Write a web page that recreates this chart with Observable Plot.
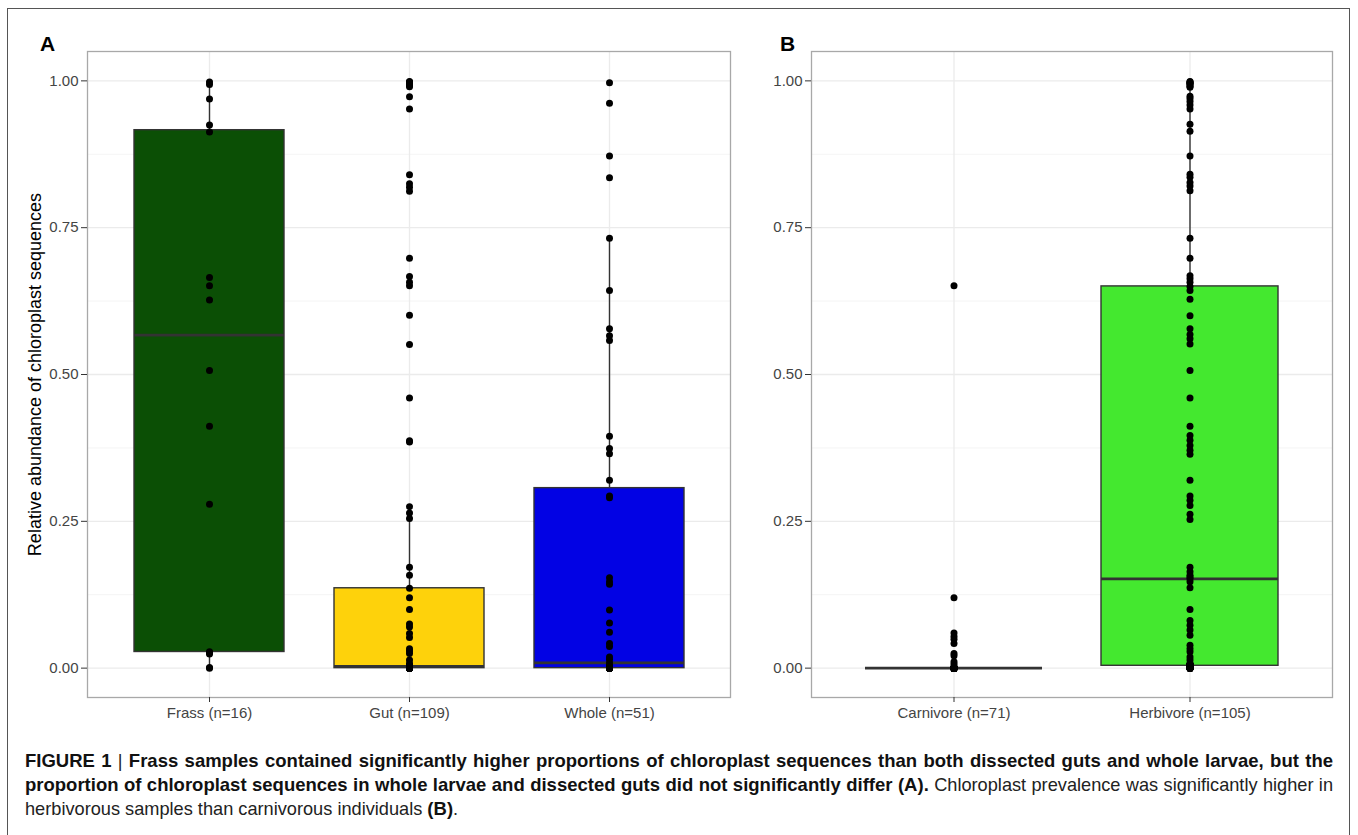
<!DOCTYPE html>
<html>
<head>
<meta charset="utf-8">
<script src="https://cdn.jsdelivr.net/npm/d3@7"></script>
<script src="https://cdn.jsdelivr.net/npm/@observablehq/plot@0.6"></script>
<style>
  html, body { margin: 0; padding: 0; background: #fff; }
  body { width: 1358px; height: 835px; position: relative; overflow: hidden; font-family: "Liberation Sans", Arial, sans-serif; }
  #frame { position: absolute; left: 7px; top: 8px; width: 1343px; height: 840px; border: 1.5px solid #555; box-sizing: border-box; }
  .panel { position: absolute; top: 0; }
  .tag { position: absolute; font-weight: bold; font-size: 21px; color: #000; line-height: 1; }
  #caption { position: absolute; left: 25px; top: 749px; width: 1308px; font-size: 18.2px; line-height: 23px; color: #222; }
  #caption .ln { white-space: nowrap; text-align: justify; text-align-last: justify; }
  #caption .ln.last { text-align-last: left; }
  #caption b { color: #111; font-size: 18.5px; }
</style>
</head>
<body>
<div id="frame"></div>
<div id="panelA" class="panel" style="left:0px"></div>
<div id="panelB" class="panel" style="left:740px"></div>
<div class="tag" style="left:40px; top:33px">A</div>
<div class="tag" style="left:780px; top:33px">B</div>
<div id="caption">
  <div class="ln"><b>FIGURE 1</b> | <b>Frass samples contained significantly higher proportions of chloroplast sequences than both dissected guts and whole larvae, but the</b></div>
  <div class="ln"><b>proportion of chloroplast sequences in whole larvae and dissected guts did not significantly differ (A).</b> Chloroplast prevalence was significantly higher in</div>
  <div class="ln last">herbivorous samples than carnivorous individuals <b>(B)</b>.</div>
</div>
<script>
// ---------------- data ----------------
const categoriesA = ["Frass (n=16)", "Gut (n=109)", "Whole (n=51)"];
const colorsA = ["#0b4f05", "#fed20b", "#0202e4"];
const categoriesB = ["Carnivore (n=71)", "Herbivore (n=105)"];
const colorsB = ["#333333", "#44e82f"];

const frass = [0.998, 0.994, 0.969, 0.925, 0.913, 0.665, 0.651, 0.627, 0.507, 0.412, 0.279, 0.028, 0.026, 0.024, 0.001, 0.000];

const gut = [0.999, 0.998, 0.997, 0.996, 0.994, 0.992, 0.990, 0.973, 0.952,
  0.840, 0.825, 0.819, 0.812, 0.698, 0.667, 0.657, 0.651, 0.601, 0.551, 0.460,
  0.387, 0.385, 0.275, 0.264, 0.255, 0.172, 0.158, 0.136, 0.120, 0.100,
  0.075, 0.070, 0.059, 0.052, 0.033, 0.029, 0.025, 0.014, 0.008, 0.003,
  0.003, 0.003, 0.003, 0.003, 0.003, 0.003, 0.003, 0.003, 0.003, 0.003,
  0.003, 0.003, 0.003, 0.003, 0.003, 0.002, 0.002, 0.002, 0.002, 0.002,
  0.001, 0.001, 0.001, 0.001, 0.001, 0.001, 0.001, 0.001, 0.001, 0.001,
  0, 0, 0, 0, 0, 0, 0, 0, 0, 0, 0, 0, 0, 0, 0, 0, 0, 0, 0, 0,
  0, 0, 0, 0, 0, 0, 0, 0, 0, 0, 0, 0, 0, 0, 0, 0, 0, 0, 0];

const whole = [0.997, 0.962, 0.872, 0.835, 0.732, 0.643, 0.578, 0.566, 0.558,
  0.395, 0.374, 0.365, 0.320, 0.293, 0.290, 0.154, 0.147, 0.143,
  0.099, 0.077, 0.061, 0.042, 0.037, 0.019, 0.015, 0.009, 0.005, 0.002,
  0, 0, 0, 0, 0, 0, 0, 0, 0, 0, 0, 0, 0, 0, 0, 0, 0, 0, 0, 0, 0, 0, 0];

const carnivore = [0.651, 0.120, 0.060, 0.054, 0.049, 0.042, 0.025, 0.021, 0.011, 0.007, 0.003, 0.001,
  0, 0, 0, 0, 0, 0, 0, 0, 0, 0, 0, 0, 0, 0, 0, 0, 0, 0, 0, 0,
  0, 0, 0, 0, 0, 0, 0, 0, 0, 0, 0, 0, 0, 0, 0, 0, 0, 0, 0, 0,
  0, 0, 0, 0, 0, 0, 0, 0, 0, 0, 0, 0, 0, 0, 0, 0, 0, 0, 0];

const herbivore = [0.999, 0.998, 0.997, 0.996, 0.995, 0.993, 0.991, 0.989,
  0.974, 0.970, 0.965, 0.959, 0.952, 0.926, 0.914, 0.872,
  0.841, 0.836, 0.827, 0.821, 0.813, 0.732, 0.698,
  0.668, 0.663, 0.657, 0.650, 0.643, 0.628, 0.600,
  0.578, 0.568, 0.561, 0.552, 0.507, 0.460, 0.412,
  0.396, 0.388, 0.379, 0.371, 0.364, 0.320,
  0.293, 0.286, 0.277, 0.262, 0.253,
  0.172, 0.164, 0.158, 0.155, 0.152, 0.147, 0.137, 0.100,
  0.081, 0.073, 0.065, 0.056, 0.039, 0.033, 0.028, 0.019, 0.014, 0.008,
  0.006, 0.006, 0.006, 0.006, 0.005, 0.005, 0.005, 0.005,
  0.004, 0.004, 0.004, 0.004, 0.004, 0.003, 0.003, 0.003, 0.003,
  0.002, 0.002, 0.002, 0.002, 0.001, 0.001, 0.001, 0.001, 0.001, 0.001,
  0, 0, 0, 0, 0, 0, 0, 0, 0, 0, 0, 0];

const yTicks = [0, 0.25, 0.5, 0.75, 1];
const yMinor = [0.125, 0.375, 0.625, 0.875];
const yTitle = "Relative abundance of chloroplast sequences";

// ---------------- helpers ----------------
function rowsOf(cat, values) { return values.map(v => ({cat, value: v})); }
const rowsA = [...rowsOf(categoriesA[0], frass), ...rowsOf(categoriesA[1], gut), ...rowsOf(categoriesA[2], whole)];
const rowsB = [...rowsOf(categoriesB[0], carnivore), ...rowsOf(categoriesB[1], herbivore)];

function whiskerValues(I, V) {
  const v = Array.from(I, i => V[i]).sort(d3.ascending);
  const q1 = d3.quantileSorted(v, 0.25), q3 = d3.quantileSorted(v, 0.75);
  const iqr = q3 - q1;
  return [d3.min(v.filter(d => d >= q1 - 1.5 * iqr)), d3.max(v.filter(d => d <= q3 + 1.5 * iqr))];
}
const loWhisker = {reduceIndex(I, V) { return whiskerValues(I, V)[0]; }};
const hiWhisker = {reduceIndex(I, V) { return whiskerValues(I, V)[1]; }};

function panel({cats, colors, rows, width, marginLeft, marginRight, withTitle}) {
  const marks = [
    Plot.ruleY(yMinor, {stroke: "#efefef", strokeWidth: 0.7}),
    Plot.ruleY(yTicks, {stroke: "#ebebeb", strokeWidth: 1.3}),
    Plot.ruleX(cats, {stroke: "#ebebeb", strokeWidth: 1.3}),
    Plot.ruleX(rows, Plot.groupX({y1: loWhisker, y2: hiWhisker}, {x: "cat", y: "value", stroke: "#333", strokeWidth: 1.4})),
    Plot.barY(rows, Plot.groupX({y1: "p25", y2: "p75"}, {x: "cat", y: "value", fill: "cat", stroke: "#333", strokeWidth: 1.4})),
    Plot.tickY(rows, Plot.groupX({y: "p50"}, {x: "cat", y: "value", stroke: "#333", strokeWidth: 2.8})),
    Plot.dot(rows, {x: "cat", y: "value", r: 3.5, fill: "#000", stroke: "none"}),
    Plot.frame({stroke: "#a8a8a8", strokeWidth: 1.3}),
    Plot.axisY(yTicks, {tickFormat: d3.format(".2f"), tickSize: 6, tickPadding: 3, fontSize: 15, stroke: "#333", fill: "#444", label: null}),
    Plot.axisX({tickSize: 5, tickPadding: 5, fontSize: 15, stroke: "#333", fill: "#444", label: null})
  ];
  if (withTitle) marks.push(Plot.text([yTitle], {frameAnchor: "left", dx: -52, rotate: -90, textAnchor: "middle", fontSize: 18, fill: "#000"}));
  return Plot.plot({
    width, height: 735,
    marginLeft, marginRight, marginTop: 51, marginBottom: 38,
    style: {fontFamily: "'Liberation Sans', Arial, sans-serif", fontSize: "15px", background: "transparent", overflow: "visible"},
    x: {domain: cats, paddingInner: 0.25, paddingOuter: 0.225, label: null, axis: null},
    y: {domain: [-0.05, 1.05], label: null, axis: null},
    color: {domain: cats, range: colors},
    marks
  });
}

document.getElementById("panelA").append(panel({cats: categoriesA, colors: colorsA, rows: rowsA, width: 740, marginLeft: 87, marginRight: 10, withTitle: true}));
document.getElementById("panelB").append(panel({cats: categoriesB, colors: colorsB, rows: rowsB, width: 605, marginLeft: 71, marginRight: 13, withTitle: false}));
</script>
</body>
</html>
